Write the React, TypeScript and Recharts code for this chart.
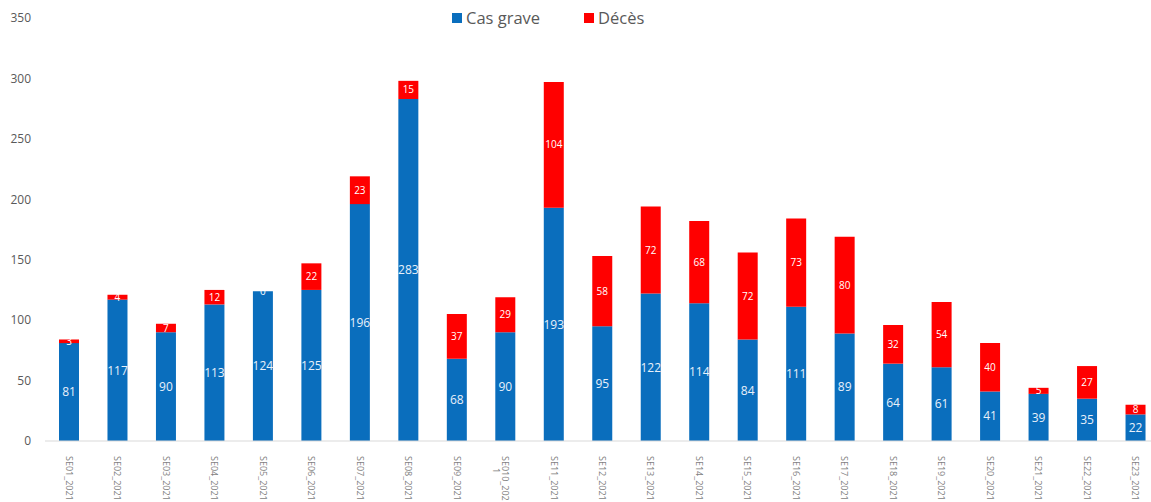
import React from "react";
import { BarChart, Bar, XAxis, YAxis, LabelList } from "recharts";

const weeks = [
  "SE01_2021", "SE02_2021", "SE03_2021", "SE04_2021", "SE05_2021", "SE06_2021",
  "SE07_2021", "SE08_2021", "SE09_2021", "SE010_2021", "SE11_2021", "SE12_2021",
  "SE13_2021", "SE14_2021", "SE15_2021", "SE16_2021", "SE17_2021", "SE18_2021",
  "SE19_2021", "SE20_2021", "SE21_2021", "SE22_2021", "SE23_2021",
];
const casGrave = [81, 117, 90, 113, 124, 125, 196, 283, 68, 90, 193, 95, 122, 114, 84, 111, 89, 64, 61, 41, 39, 35, 22];
const deces = [3, 4, 7, 12, 0, 22, 23, 15, 37, 29, 104, 58, 72, 68, 72, 73, 80, 32, 54, 40, 5, 27, 8];
const yTicks = [0, 50, 100, 150, 200, 250, 300, 350];

const data = weeks.map((w, i) => ({ week: w, cas: casGrave[i], deces: deces[i] }));

const BLUE = "#0a6ebd";
const RED = "#ff0000";
const FONT = "'Open Sans', 'Noto Sans', sans-serif";

const XTick = (props: any) => {
  const { x, y, payload } = props;
  const v: string = payload.value;
  const l1 = v.length > 9 ? v.slice(0, 9) : v;
  const l2 = v.length > 9 ? v.slice(9) : "";
  return (
    <g transform={`translate(${x},${y + 7}) rotate(90)`}>
      <text x={0} y={0} textAnchor="start" dominantBaseline="central" fontSize={9} fill="#7f7f7f" fontFamily={FONT}>
        {l1}
      </text>
      {l2 && (
        <text x={12} y={9} textAnchor="start" dominantBaseline="central" fontSize={9} fill="#7f7f7f" fontFamily={FONT}>
          {l2}
        </text>
      )}
    </g>
  );
};

const ZeroLabel = (props: any) => {
  const { x, y, width, value } = props;
  if (value !== 0) return null;
  return (
    <text x={x + width / 2} y={y} textAnchor="middle" dominantBaseline="central" fontSize={10} fill="#ffffff" fontFamily={FONT}>
      {value}
    </text>
  );
};

const LegendBox = () => (
  <div
    style={{
      position: "absolute",
      top: 7,
      left: 452,
      display: "flex",
      fontFamily: FONT,
      fontSize: 16.5,
      color: "#595959",
      lineHeight: "22px",
      whiteSpace: "nowrap",
    }}
  >
    <div style={{ display: "flex", alignItems: "center", width: 132 }}>
      <span style={{ width: 10, height: 10, background: BLUE, display: "inline-block", marginRight: 4 }} />
      Cas grave
    </div>
    <div style={{ display: "flex", alignItems: "center" }}>
      <span style={{ width: 10, height: 10, background: RED, display: "inline-block", marginRight: 4 }} />
      Décès
    </div>
  </div>
);

export default function App() {
  return (
    <div style={{ position: "absolute", left: 0, top: 0, width: 1151, height: 502, overflow: "hidden", background: "#fff" }}>
      <BarChart width={1162} height={502} data={data} margin={{ top: 18, right: 2, left: 0, bottom: 0 }} barSize={20}>
        <YAxis
          domain={[0, 350]}
          ticks={yTicks}
          width={45}
          axisLine={false}
          tickLine={false}
          tickSize={0}
          tickMargin={14}
          tick={{ fontSize: 12, fill: "#595959", fontFamily: FONT }}
        />
        <XAxis
          dataKey="week"
          interval={0}
          height={61}
          axisLine={{ stroke: "#d9d9d9" }}
          tickLine={false}
          tick={<XTick />}
        />
        <Bar dataKey="cas" stackId="a" fill={BLUE} isAnimationActive={false}>
          <LabelList dataKey="cas" position="center" fill="#e8f0fa" fontSize={12} fontFamily={FONT} />
          <LabelList dataKey="deces" content={<ZeroLabel />} />
        </Bar>
        <Bar dataKey="deces" stackId="a" fill={RED} isAnimationActive={false}>
          <LabelList dataKey="deces" position="center" fill="#ffffff" fontSize={10} fontFamily={FONT} />
        </Bar>
      </BarChart>
      <LegendBox />
    </div>
  );
}
